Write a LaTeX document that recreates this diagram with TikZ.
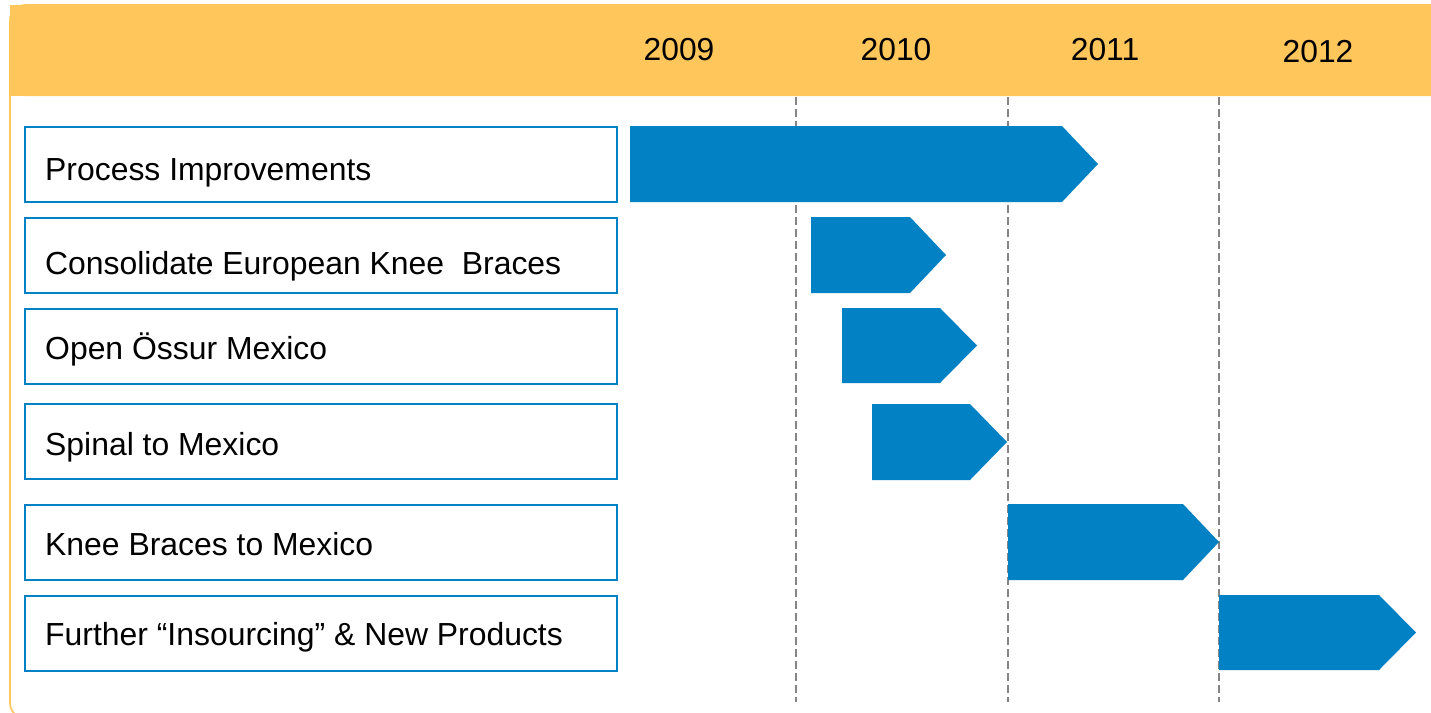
\documentclass[tikz,border=0pt]{standalone}
\usepackage{fontspec}
\setmainfont{Liberation Sans}
\definecolor{hdr}{HTML}{FEC65B}
\definecolor{barblue}{HTML}{0282C4}
\definecolor{dashgray}{HTML}{858585}
\begin{document}
\begin{tikzpicture}[x=1pt,y=-1pt,
  lblbox/.style={draw=barblue,line width=1.8pt,fill=white,minimum width=592pt,minimum height=75pt,anchor=north west,inner sep=0pt},
  lbltxt/.style={font=\fontsize{31.9}{36}\selectfont,anchor=base west,inner sep=0pt},
  yr/.style={font=\fontsize{31.8}{36}\selectfont,inner sep=0pt},
  bar/.style={fill=barblue},
  grid/.style={dashgray,line width=1.5pt,dash pattern=on 8pt off 4pt}]
\useasboundingbox (0,0) rectangle (1431,712);
\clip (0,0) rectangle (1431,712);
% frame
\draw[hdr,line width=1.6pt,rounded corners=15pt] (10,5) rectangle (1460,718);
\fill[hdr,rounded corners=15pt] (10,5) -- (1460,5) -- (1460,96) -- (10,96) [sharp corners] -- cycle;
\fill[hdr] (10,60) rectangle (1460,96);
% years
\node[yr] (y2009) at (679,50) {2009};
\node[yr] (y2010) at (896,50) {2010};
\node[yr] (y2011) at (1105,50) {2011};
\node[yr] (y2012) at (1318,52) {2012};
% grid lines
\coordinate (g1t) at (796,97); \coordinate (g1b) at (796,702);
\coordinate (g2t) at (1008,97); \coordinate (g2b) at (1008,702);
\coordinate (g3t) at (1219,97); \coordinate (g3b) at (1219,702);
\draw[grid] (g1t) -- (g1b);
\draw[grid] (g2t) -- (g2b);
\draw[grid] (g3t) -- (g3b);
% label boxes
\node[lblbox] (b1) at (24,126) {};
\node[lblbox] (b2) at (24,217) {};
\node[lblbox] (b3) at (24,308) {};
\node[lblbox] (b4) at (24,403) {};
\node[lblbox] (b5) at (24,504) {};
\node[lblbox] (b6) at (24,595) {};
% label texts
\node[lbltxt] (l1) at (45,180) {Process Improvements};
\node[lbltxt] (l2) at (45,274) {Consolidate European Knee\ \ Braces};
\node[lbltxt] (l3) at (45,359) {Open Össur Mexico};
\node[lbltxt] (l4) at (45,455) {Spinal to Mexico};
\node[lbltxt] (l5) at (45,555) {Knee Braces to Mexico};
\node[lbltxt] (l6) at (45,645) {Further “Insourcing” \& New Products};
% bars
\fill[bar] (630,126) -- (1062,126) -- (1098,164) -- (1062,202) -- (630,202) -- cycle;
\fill[bar] (811,217) -- (910,217) -- (946,255) -- (910,293) -- (811,293) -- cycle;
\fill[bar] (842,308) -- (940,308) -- (977,345.5) -- (940,383) -- (842,383) -- cycle;
\fill[bar] (872,404) -- (970,404) -- (1007,442) -- (970,480) -- (872,480) -- cycle;
\fill[bar] (1008,504) -- (1183,504) -- (1219,542) -- (1183,580) -- (1008,580) -- cycle;
\fill[bar] (1219,595) -- (1379,595) -- (1416,632.5) -- (1379,670) -- (1219,670) -- cycle;
\end{tikzpicture}
\end{document}
